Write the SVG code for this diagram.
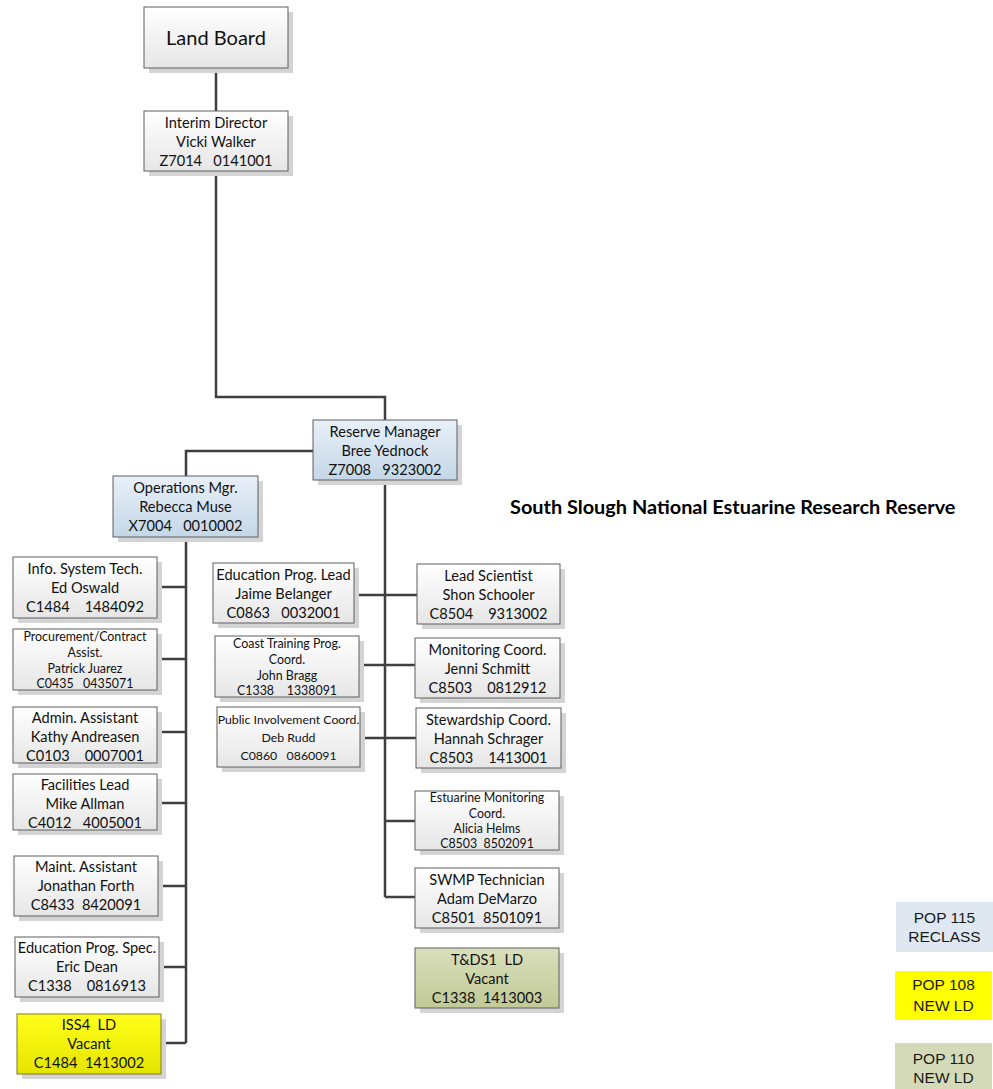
<svg xmlns="http://www.w3.org/2000/svg" width="993" height="1089" viewBox="0 0 993 1089">
  <defs>
    <linearGradient id="gWhite" x1="0" y1="0" x2="0" y2="1">
      <stop offset="0" stop-color="#ffffff"/>
      <stop offset="1" stop-color="#e6e6e6"/>
    </linearGradient>
    <linearGradient id="gBlue" x1="0" y1="0" x2="0" y2="1">
      <stop offset="0" stop-color="#e8f0f8"/>
      <stop offset="1" stop-color="#c4d7e7"/>
    </linearGradient>
    <linearGradient id="gYellow" x1="0" y1="0" x2="0" y2="1">
      <stop offset="0" stop-color="#ffff1a"/>
      <stop offset="1" stop-color="#e4e400"/>
    </linearGradient>
    <linearGradient id="gOlive" x1="0" y1="0" x2="0" y2="1">
      <stop offset="0" stop-color="#d9dfbc"/>
      <stop offset="1" stop-color="#c1c996"/>
    </linearGradient>
  </defs>
  <style>
    .shadow { fill: #d4d4d4; }
    .box { stroke: #5f5f5f; stroke-width: 1; }
    .white { fill: url(#gWhite); }
    .blue { fill: url(#gBlue); }
    .yellow { fill: url(#gYellow); stroke: #7a7a30; }
    .olive { fill: url(#gOlive); }
    text { font-family: Lato, "Open Sans", sans-serif; fill: #111111; text-anchor: middle; white-space: pre; }
    .t { font-size: 14.6px; }
    .s { font-size: 12.4px; }
    .m { font-size: 12.3px; }
    .big { font-size: 20px; }
    .title { font-size: 19.9px; font-weight: bold; text-anchor: start; fill: #000000; }
    .legend text { font-family: "Liberation Sans", Arial, sans-serif; font-size: 15.5px; fill: #1a1a1a; }
    .links { fill: none; stroke: #3f3f3f; stroke-width: 2.5; }
  </style>

  <!-- reporting lines -->
  <g id="connectors" class="links">
    <path d="M216 68 V111"/>
    <path d="M216 170 V397 H385 V420"/>
    <path d="M313 451 H186 V476"/>
    <path d="M186 537 V1043"/>
    <path d="M157 587 H186"/>
    <path d="M157 659 H186"/>
    <path d="M157 732 H186"/>
    <path d="M157 803 H186"/>
    <path d="M158 886 H186"/>
    <path d="M159 967 H186"/>
    <path d="M161 1043 H186"/>
    <path d="M385 480 V897"/>
    <path d="M354 595 H417"/>
    <path d="M359 665 H415"/>
    <path d="M360 738 H416"/>
    <path d="M385 821 H415"/>
    <path d="M385 897 H415"/>
  </g>

  <g id="land-board">
    <rect class="shadow" x="149" y="12" width="144" height="61"/>
    <rect class="box white" x="144" y="7" width="144" height="61"/>
    <text class="big" x="216" y="45">Land Board</text>
  </g>

  <g id="interim-director">
    <rect class="shadow" x="149" y="116" width="144" height="60"/>
    <rect class="box white" x="144" y="111" width="144" height="60"/>
    <text class="t" x="216" y="128">Interim Director</text>
    <text class="t" x="216" y="147">Vicki Walker</text>
    <text class="t" x="216" y="166">Z7014   0141001</text>
  </g>

  <g id="reserve-manager">
    <rect class="shadow" x="318" y="425" width="144" height="60"/>
    <rect class="box blue" x="313" y="420" width="144" height="60"/>
    <text class="t" x="385" y="437">Reserve Manager</text>
    <text class="t" x="385" y="456">Bree Yednock</text>
    <text class="t" x="385" y="475">Z7008   9323002</text>
  </g>

  <g id="operations-mgr">
    <rect class="shadow" x="118" y="481" width="145" height="61"/>
    <rect class="box blue" x="113" y="476" width="145" height="61"/>
    <text class="t" x="185.5" y="493">Operations Mgr.</text>
    <text class="t" x="185.5" y="512">Rebecca Muse</text>
    <text class="t" x="185.5" y="531">X7004   0010002</text>
  </g>

  <text class="title" x="510" y="514">South Slough National Estuarine Research Reserve</text>

  <!-- operations staff -->
  <g id="info-system-tech">
    <rect class="shadow" x="18" y="562" width="144" height="61"/>
    <rect class="box white" x="13" y="557" width="144" height="61"/>
    <text class="t" x="85" y="574">Info. System Tech.</text>
    <text class="t" x="85" y="593">Ed Oswald</text>
    <text class="t" x="85" y="612">C1484    1484092</text>
  </g>

  <g id="procurement-assist">
    <rect class="shadow" x="18" y="634" width="144" height="61"/>
    <rect class="box white" x="13" y="629" width="144" height="61"/>
    <text class="s" x="85" y="641">Procurement/Contract</text>
    <text class="s" x="85" y="657">Assist.</text>
    <text class="s" x="85" y="673">Patrick Juarez</text>
    <text class="s" x="85" y="688">C0435   0435071</text>
  </g>

  <g id="admin-assistant">
    <rect class="shadow" x="18" y="712" width="144" height="56"/>
    <rect class="box white" x="13" y="707" width="144" height="56"/>
    <text class="t" x="85" y="723">Admin. Assistant</text>
    <text class="t" x="85" y="742">Kathy Andreasen</text>
    <text class="t" x="85" y="761">C0103    0007001</text>
  </g>

  <g id="facilities-lead">
    <rect class="shadow" x="18" y="779" width="144" height="56"/>
    <rect class="box white" x="13" y="774" width="144" height="56"/>
    <text class="t" x="85" y="790">Facilities Lead</text>
    <text class="t" x="85" y="809">Mike Allman</text>
    <text class="t" x="85" y="828">C4012   4005001</text>
  </g>

  <g id="maint-assistant">
    <rect class="shadow" x="19" y="861" width="144" height="60"/>
    <rect class="box white" x="14" y="856" width="144" height="60"/>
    <text class="t" x="86" y="872">Maint. Assistant</text>
    <text class="t" x="86" y="891">Jonathan Forth</text>
    <text class="t" x="86" y="910">C8433  8420091</text>
  </g>

  <g id="education-prog-spec">
    <rect class="shadow" x="20" y="942" width="144" height="60"/>
    <rect class="box white" x="15" y="937" width="144" height="60"/>
    <text class="t" x="87" y="953">Education Prog. Spec.</text>
    <text class="t" x="87" y="972">Eric Dean</text>
    <text class="t" x="87" y="991">C1338    0816913</text>
  </g>

  <g id="iss4-ld">
    <rect class="shadow" x="22" y="1019" width="144" height="60"/>
    <rect class="box yellow" x="17" y="1014" width="144" height="60"/>
    <text class="t" x="89" y="1030">ISS4  LD</text>
    <text class="t" x="89" y="1049">Vacant</text>
    <text class="t" x="89" y="1068">C1484  1413002</text>
  </g>

  <!-- education staff -->
  <g id="education-prog-lead">
    <rect class="shadow" x="218" y="568" width="141" height="60"/>
    <rect class="box white" x="213" y="563" width="141" height="60"/>
    <text class="t" x="283.5" y="580">Education Prog. Lead</text>
    <text class="t" x="283.5" y="599">Jaime Belanger</text>
    <text class="t" x="283.5" y="618">C0863   0032001</text>
  </g>

  <g id="coast-training-coord">
    <rect class="shadow" x="220" y="641" width="144" height="61"/>
    <rect class="box white" x="215" y="636" width="144" height="61"/>
    <text class="s" x="287" y="648">Coast Training Prog.</text>
    <text class="s" x="287" y="664">Coord.</text>
    <text class="s" x="287" y="680">John Bragg</text>
    <text class="s" x="287" y="695">C1338    1338091</text>
  </g>

  <g id="public-involvement-coord">
    <rect class="shadow" x="222" y="712" width="143" height="60"/>
    <rect class="box white" x="217" y="707" width="143" height="60"/>
    <text class="m" x="288.5" y="724">Public Involvement Coord.</text>
    <text class="m" x="288.5" y="742">Deb Rudd</text>
    <text class="m" x="288.5" y="760">C0860   0860091</text>
  </g>

  <!-- science and stewardship staff -->
  <g id="lead-scientist">
    <rect class="shadow" x="422" y="569" width="143" height="60"/>
    <rect class="box white" x="417" y="564" width="143" height="60"/>
    <text class="t" x="488.5" y="581">Lead Scientist</text>
    <text class="t" x="488.5" y="600">Shon Schooler</text>
    <text class="t" x="488.5" y="619">C8504    9313002</text>
  </g>

  <g id="monitoring-coord">
    <rect class="shadow" x="420" y="643" width="145" height="60"/>
    <rect class="box white" x="415" y="638" width="145" height="60"/>
    <text class="t" x="487.5" y="655">Monitoring Coord.</text>
    <text class="t" x="487.5" y="674">Jenni Schmitt</text>
    <text class="t" x="487.5" y="693">C8503    0812912</text>
  </g>

  <g id="stewardship-coord">
    <rect class="shadow" x="421" y="713" width="145" height="60"/>
    <rect class="box white" x="416" y="708" width="145" height="60"/>
    <text class="t" x="488.5" y="725">Stewardship Coord.</text>
    <text class="t" x="488.5" y="744">Hannah Schrager</text>
    <text class="t" x="488.5" y="763">C8503    1413001</text>
  </g>

  <g id="estuarine-monitoring-coord">
    <rect class="shadow" x="420" y="796" width="144" height="59"/>
    <rect class="box white" x="415" y="791" width="144" height="59"/>
    <text class="s" x="487" y="802">Estuarine Monitoring</text>
    <text class="s" x="487" y="818">Coord.</text>
    <text class="s" x="487" y="833">Alicia Helms</text>
    <text class="s" x="487" y="848">C8503  8502091</text>
  </g>

  <g id="swmp-technician">
    <rect class="shadow" x="420" y="873" width="144" height="60"/>
    <rect class="box white" x="415" y="868" width="144" height="60"/>
    <text class="t" x="487" y="885">SWMP Technician</text>
    <text class="t" x="487" y="904">Adam DeMarzo</text>
    <text class="t" x="487" y="923">C8501  8501091</text>
  </g>

  <g id="tds1-ld">
    <rect class="shadow" x="420" y="953" width="144" height="60"/>
    <rect class="box olive" x="415" y="948" width="144" height="60"/>
    <text class="t" x="487" y="965">T&amp;DS1  LD</text>
    <text class="t" x="487" y="984">Vacant</text>
    <text class="t" x="487" y="1003">C1338  1413003</text>
  </g>

  <!-- colour key -->
  <g id="legend" class="legend">
    <g id="legend-reclass">
      <rect x="896" y="902" width="97" height="50" fill="#dfe8f1"/>
      <text x="944.5" y="923">POP 115</text>
      <text x="944.5" y="942">RECLASS</text>
    </g>
    <g id="legend-new-ld-yellow">
      <rect x="895" y="971" width="97" height="49" fill="#ffff00"/>
      <text x="943.5" y="990">POP 108</text>
      <text x="943.5" y="1011">NEW LD</text>
    </g>
    <g id="legend-new-ld-olive">
      <rect x="895" y="1043" width="97" height="46" fill="#d4dab7"/>
      <text x="943.5" y="1064">POP 110</text>
      <text x="943.5" y="1083">NEW LD</text>
    </g>
  </g>
</svg>
